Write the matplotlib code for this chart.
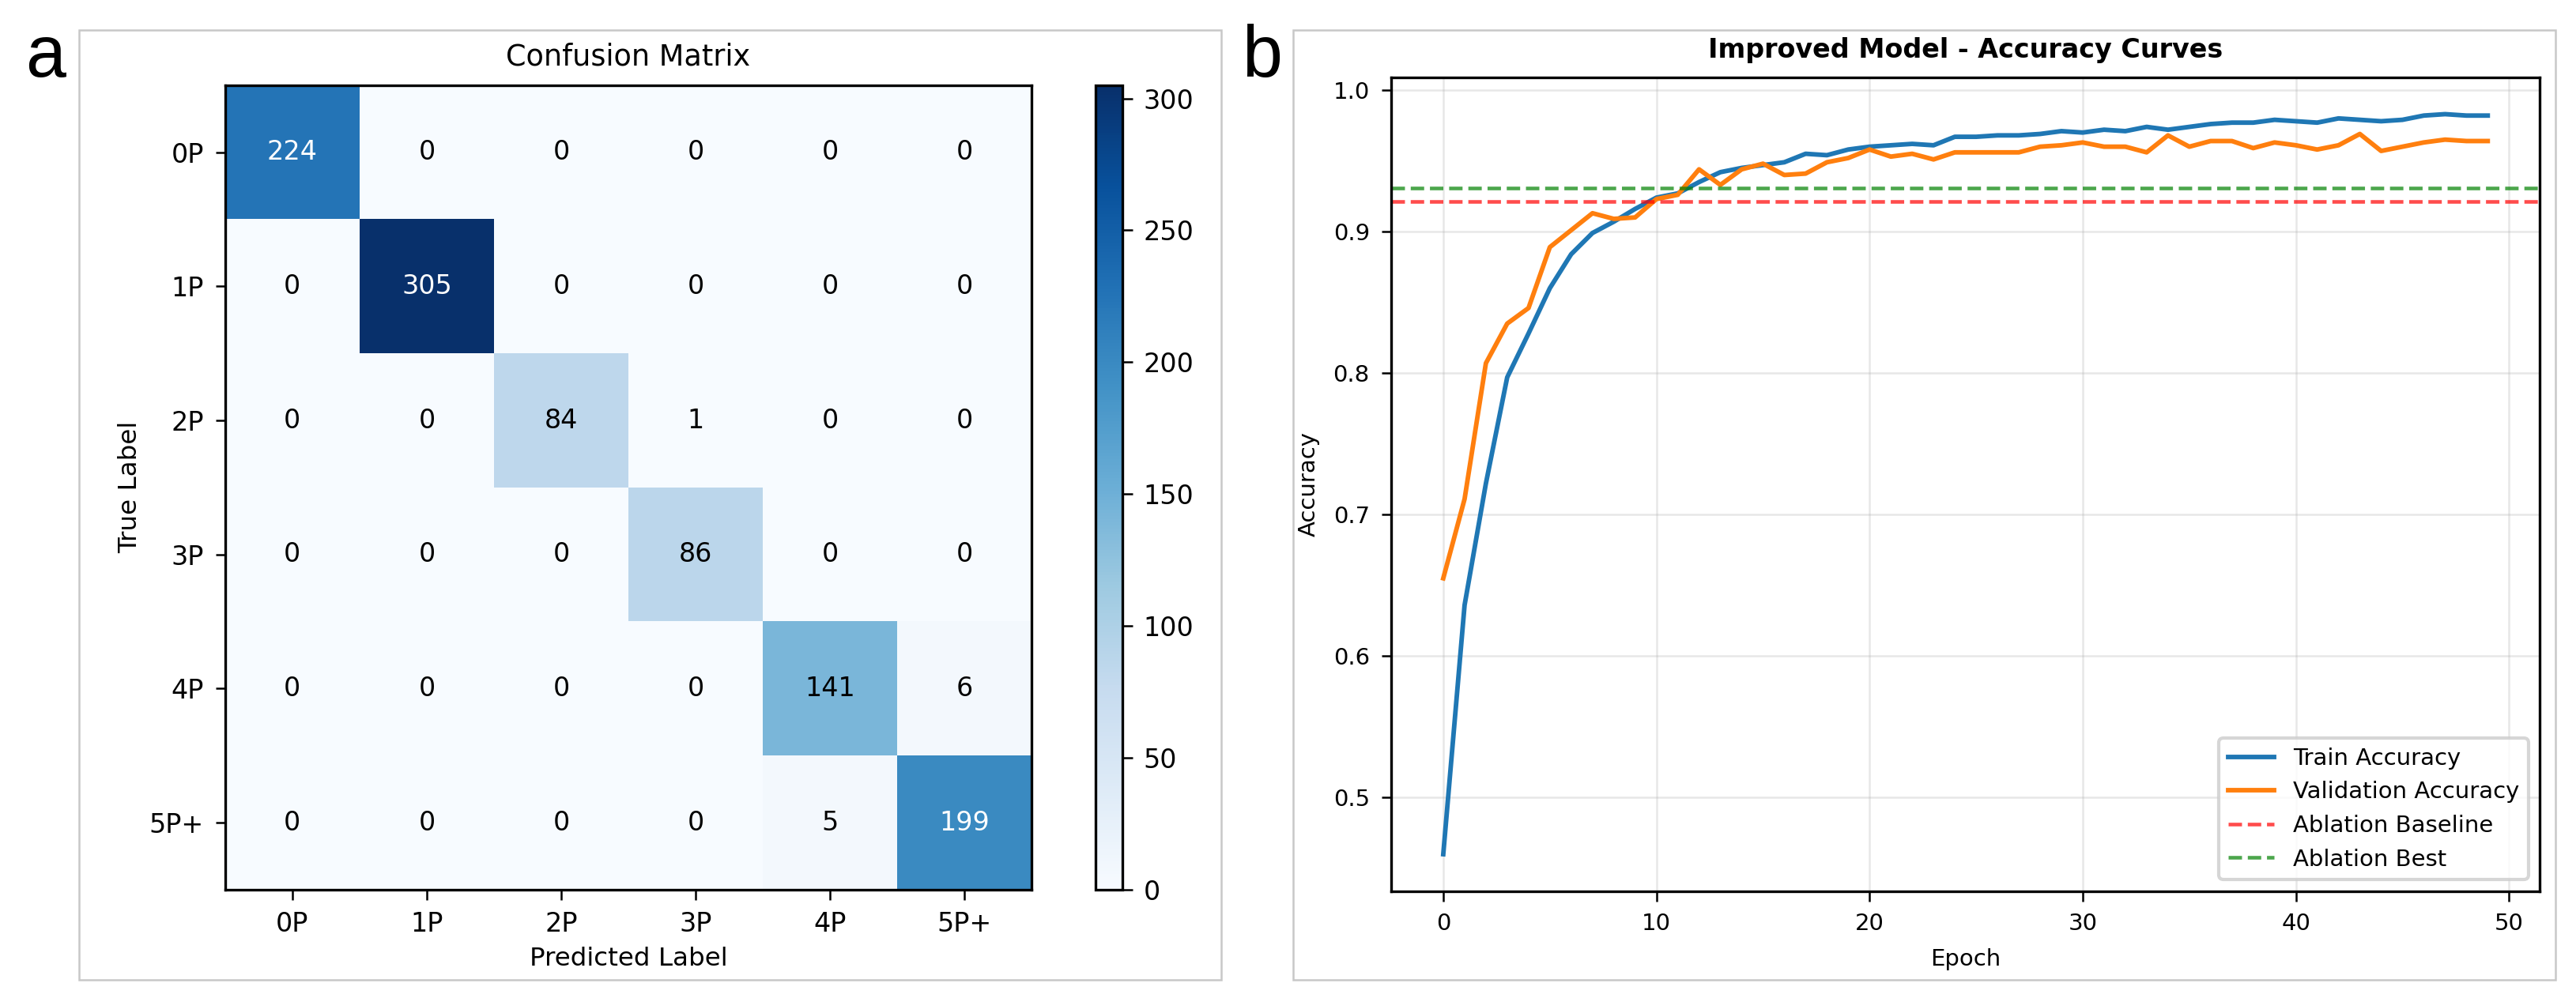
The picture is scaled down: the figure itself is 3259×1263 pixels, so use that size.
import numpy as np
import matplotlib
matplotlib.use("Agg")
import matplotlib.pyplot as plt
from matplotlib.patches import Rectangle

# confusion matrix data
class_names = ["0P", "1P", "2P", "3P", "4P", "5P+"]
cm_row_0p = [224, 0, 0, 0, 0, 0]
cm_row_1p = [0, 305, 0, 0, 0, 0]
cm_row_2p = [0, 0, 84, 1, 0, 0]
cm_row_3p = [0, 0, 0, 86, 0, 0]
cm_row_4p = [0, 0, 0, 0, 141, 6]
cm_row_5p = [0, 0, 0, 0, 5, 199]

# accuracy curves
epochs = list(range(50))
train_acc = [0.460, 0.636, 0.722, 0.797, 0.828, 0.860, 0.884, 0.899, 0.907, 0.916,
             0.924, 0.927, 0.935, 0.942, 0.945, 0.947, 0.949, 0.955, 0.954, 0.958,
             0.960, 0.961, 0.962, 0.961, 0.967, 0.967, 0.968, 0.968, 0.969, 0.971,
             0.970, 0.972, 0.971, 0.974, 0.972, 0.974, 0.976, 0.977, 0.977, 0.979,
             0.978, 0.977, 0.980, 0.979, 0.978, 0.979, 0.982, 0.983, 0.982, 0.982]
val_acc = [0.655, 0.711, 0.807, 0.835, 0.846, 0.889, 0.901, 0.913, 0.909, 0.910,
           0.923, 0.926, 0.944, 0.933, 0.944, 0.948, 0.940, 0.941, 0.949, 0.952,
           0.958, 0.953, 0.955, 0.951, 0.956, 0.956, 0.956, 0.956, 0.960, 0.961,
           0.963, 0.960, 0.960, 0.956, 0.968, 0.960, 0.964, 0.964, 0.959, 0.963,
           0.961, 0.958, 0.961, 0.969, 0.957, 0.960, 0.963, 0.965, 0.964, 0.964]
ablation_baseline = 0.921
ablation_best = 0.931

cm = np.array([cm_row_0p, cm_row_1p, cm_row_2p, cm_row_3p, cm_row_4p, cm_row_5p])

fig = plt.figure(figsize=(3259 / 300, 1263 / 300), dpi=300)

# panel frames
for x0, x1 in [(0.0306, 0.474), (0.502, 0.992)]:
    fig.patches.append(Rectangle((x0, 0.018), x1 - x0, 0.952, transform=fig.transFigure,
                                 fill=False, edgecolor="#c8c8c8", linewidth=0.6))
fig.text(0.0098, 0.942, "a", fontsize=22, family="Liberation Sans", va="center")
fig.text(0.482, 0.942, "b", fontsize=22, family="Liberation Sans", va="center")

# --- confusion matrix ---
ax1 = fig.add_axes([0.0874, 0.1086, 0.3131, 0.806])
im = ax1.imshow(cm, cmap="Blues", aspect="auto")
thresh = cm.max() / 2.0
for i in range(cm.shape[0]):
    for j in range(cm.shape[1]):
        ax1.text(j, i, str(cm[i, j]), ha="center", va="center", fontsize=8,
                 color="white" if cm[i, j] > thresh else "black")
ax1.set_xticks(range(len(class_names)))
ax1.set_yticks(range(len(class_names)))
ax1.set_xticklabels(class_names)
ax1.set_yticklabels(class_names)
ax1.tick_params(labelsize=8, width=0.6, length=3)
ax1.set_xlabel("Predicted Label", fontsize=7.8, labelpad=3)
ax1.set_ylabel("True Label", fontsize=7.8, labelpad=2)
ax1.set_title("Confusion Matrix", fontsize=8.8)
for s in ax1.spines.values():
    s.set_linewidth(0.8)

cax = fig.add_axes([0.4254, 0.1086, 0.0102, 0.806])
cb = fig.colorbar(im, cax=cax)
cb.set_ticks([0, 50, 100, 150, 200, 250, 300])
cb.ax.tick_params(labelsize=8, width=0.6, length=3)
cb.outline.set_linewidth(0.8)

# --- accuracy curves ---
ax2 = fig.add_axes([0.540, 0.107, 0.446, 0.8157])
ax2.plot(epochs, train_acc, label="Train Accuracy", color="#1f77b4", linewidth=1.4)
ax2.plot(epochs, val_acc, label="Validation Accuracy", color="#ff7f0e", linewidth=1.4)
ax2.axhline(ablation_baseline, color="red", linestyle="--", alpha=0.7, linewidth=1.1,
            label="Ablation Baseline")
ax2.axhline(ablation_best, color="green", linestyle="--", alpha=0.7, linewidth=1.1,
            label="Ablation Best")
ax2.set_xlabel("Epoch", fontsize=7)
ax2.set_ylabel("Accuracy", fontsize=7)
ax2.set_title("Improved Model - Accuracy Curves", fontsize=8, fontweight="bold")
ax2.tick_params(labelsize=7, width=0.6, length=3)
ax2.grid(True, alpha=0.3, linewidth=0.6)
ax2.legend(loc="lower right", fontsize=7)
for s in ax2.spines.values():
    s.set_linewidth(0.8)

fig.savefig("out.png", dpi=300)
